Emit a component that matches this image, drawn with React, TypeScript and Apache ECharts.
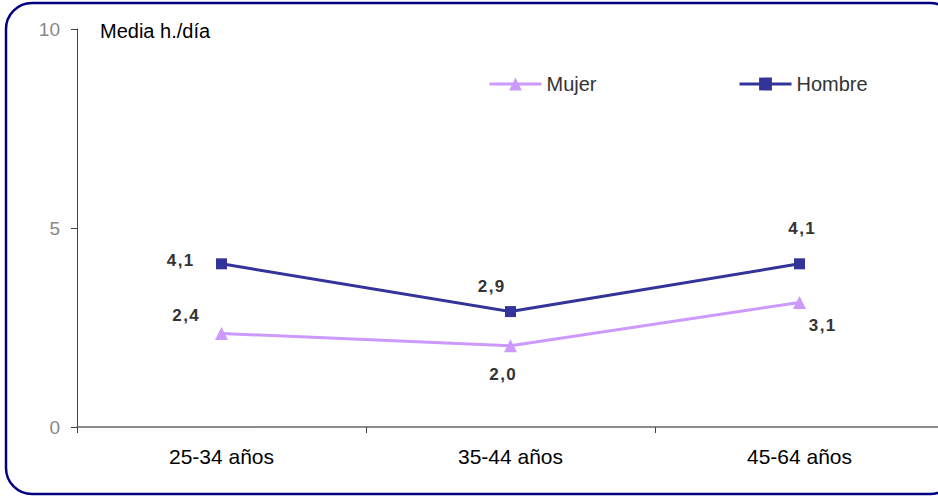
import React, { useEffect, useRef } from "react";
import * as echarts from "echarts";

const categories = ["25-34 años", "35-44 años", "45-64 años"];
const mujer = [2.35, 2.04, 3.13];
const hombre = [4.1, 2.9, 4.1];
const yTicks = [0, 5, 10];

const FONT = "Liberation Sans, Arial, sans-serif";

export default function App() {
  const ref = useRef<HTMLDivElement>(null);
  useEffect(() => {
    if (!ref.current) return;
    const chart = echarts.init(ref.current, null, { renderer: "svg" });
    const fmt = (p: any) => Number(p.value).toFixed(1).split("").join("\u200A").replace(".", ",");
    const lbl = {
      show: true,
      position: "inside",
      fontFamily: FONT,
      fontSize: 17,
      fontWeight: "bold",
      color: "#333333",
      formatter: fmt,
    };
    const mujerOffsets = [
      [-36, -17.5],
      [-8, 28.5],
      [22.5, 23],
    ];
    const hombreOffsets = [
      [-41.5, -3],
      [-19.5, -25.5],
      [2, -35.5],
    ];
    const legendCommon = {
      top: 74,
      padding: 0,
      itemWidth: 52,
      itemHeight: 16,
      itemGap: 5,
      lineStyle: { width: 3 },
      textStyle: { fontFamily: FONT, fontSize: 20, color: "#333333" },
    };
    chart.setOption({
      animation: false,
      textStyle: { fontFamily: FONT },
      grid: { left: 77, top: 29, width: 867, height: 398, containLabel: false, outerBoundsMode: "none" },
      graphic: [
        {
          type: "rect",
          shape: { x: 6, y: 3, width: 950, height: 491, r: 26 },
          style: { fill: "none", stroke: "#000080", lineWidth: 2.5 },
          z: 100,
        },
        {
          type: "text",
          left: 100,
          top: 21,
          style: { text: "Media h./día", fontFamily: FONT, fontSize: 20, fill: "#000000" },
        },
      ],
      legend: [
        { ...legendCommon, data: ["Mujer"], left: 488 },
        { ...legendCommon, data: ["Hombre"], left: 738 },
      ],
      xAxis: {
        type: "category",
        data: categories,
        boundaryGap: true,
        axisLine: { lineStyle: { color: "#666666", width: 1.5 } },
        axisTick: { show: true, length: 6, inside: false, lineStyle: { color: "#444444" } },
        axisLabel: { fontFamily: FONT, fontSize: 21, color: "#000000", margin: 19 },
      },
      yAxis: {
        type: "value",
        min: yTicks[0],
        max: yTicks[yTicks.length - 1],
        interval: 5,
        splitLine: { show: false },
        axisLine: { show: true, lineStyle: { color: "#444444", width: 1 } },
        axisTick: { show: true, length: 6, lineStyle: { color: "#444444" } },
        axisLabel: { fontFamily: FONT, fontSize: 19, color: "#888888", margin: 17 },
      },
      series: [
        {
          name: "Mujer",
          type: "line",
          data: mujer.map((v, i) => ({ value: v, label: { ...lbl, offset: mujerOffsets[i] } })),
          symbol: "triangle",
          symbolSize: 13,
          lineStyle: { color: "#CC99FF", width: 3 },
          itemStyle: { color: "#CC99FF" },
          label: lbl,
        },
        {
          name: "Hombre",
          type: "line",
          data: hombre.map((v, i) => ({ value: v, label: { ...lbl, offset: hombreOffsets[i] } })),
          symbol: "rect",
          symbolSize: 11,
          lineStyle: { color: "#333399", width: 3 },
          itemStyle: { color: "#333399" },
          label: lbl,
        },
      ],
    });
    return () => chart.dispose();
  }, []);
  return <div ref={ref} style={{ width: 938, height: 497, position: "absolute", left: 0, top: 0 }} />;
}
